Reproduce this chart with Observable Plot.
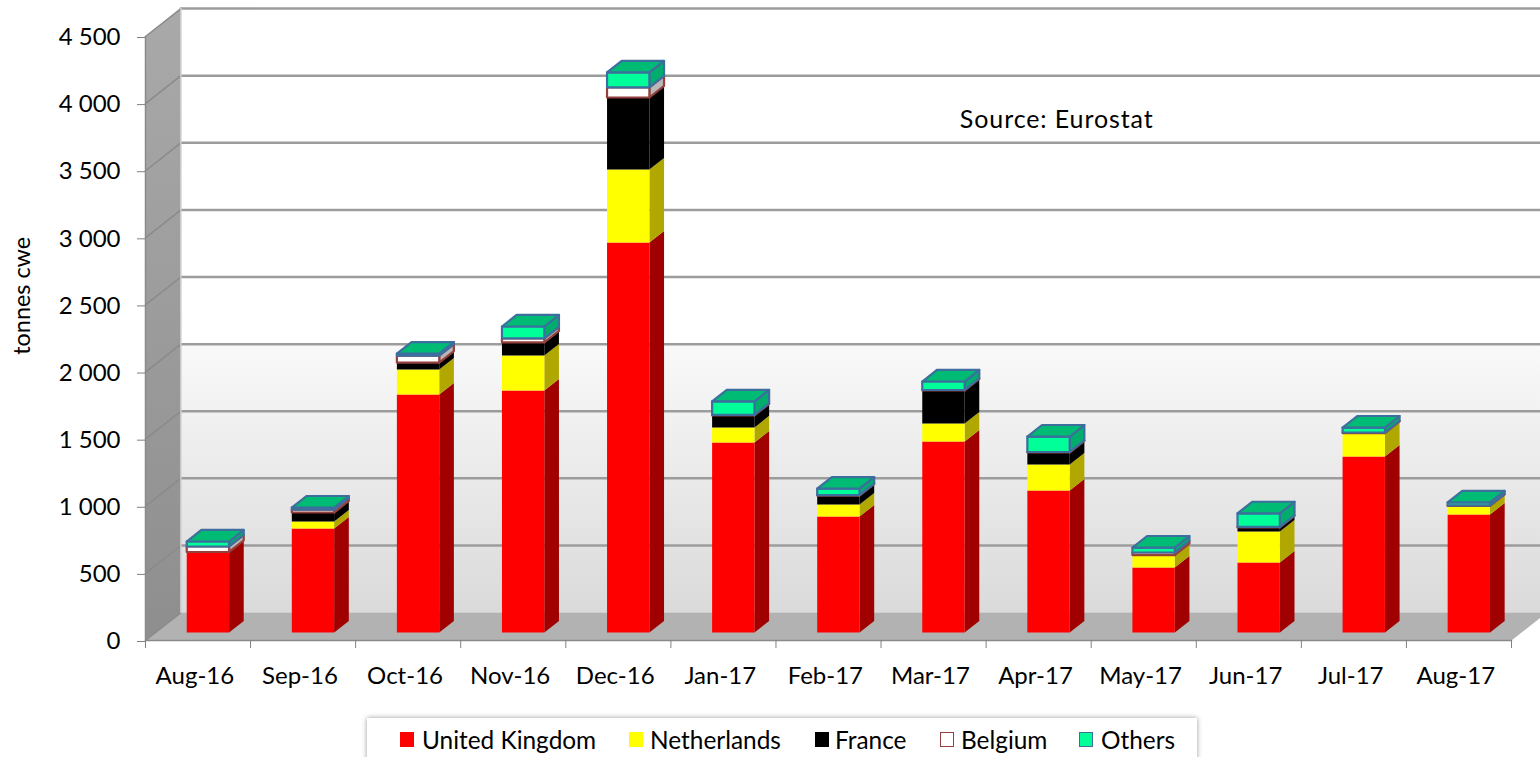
<!DOCTYPE html>
<html>
<head>
<meta charset="utf-8">
<script src="https://cdn.jsdelivr.net/npm/d3@7"></script>
<script src="https://cdn.jsdelivr.net/npm/@observablehq/plot@0.6"></script>
<style>
html,body{margin:0;padding:0;background:#fff;overflow:hidden}
#chart{position:relative;width:1540px;height:757px;font-family:Lato,sans-serif;color:#000}
#legend{position:absolute;left:367px;top:718px;width:830px;height:60px;background:#fff;box-shadow:0 0 5px rgba(0,0,0,.4);font-size:24.4px}
#legend span{position:absolute;white-space:nowrap}
#legend i{position:absolute;box-sizing:border-box;width:14px;height:15px;top:14px}
.source-note text{letter-spacing:.9px}
</style>
</head>
<body>
<div id="chart"></div>
<script>
const months = ["Aug-16","Sep-16","Oct-16","Nov-16","Dec-16","Jan-17","Feb-17","Mar-17","Apr-17","May-17","Jun-17","Jul-17","Aug-17"];
const unitedKingdom = [596,775,1773,1803,2906,1416,864,1423,1058,484,522,1311,879];
const netherlands   = [4,52,186,261,544,112,89,134,194,89,231,171,60];
const france        = [0,67,52,97,536,89,67,246,89,4,30,4,4];
const belgium       = [41,22,52,30,75,4,4,4,4,19,4,4,4];
const others        = [37,15,15,89,112,101,48,63,115,37,101,37,22];
const seriesNames   = ["United Kingdom","Netherlands","France","Belgium","Others"];
const seriesValues  = [unitedKingdom,netherlands,france,belgium,others];
const frontColors = ["#ff0000","#ffff00","#000000","#ffffff","#00ff99"];
const sideColors  = ["#a00000","#b0a800","#000000","#b8b8b8","#00ad6c"];
const topColor    = "#00bb73";
const edgeColors  = ["none","none","none","#94403f","#3d6f9e"];
const yTicks = [0,500,1000,1500,2000,2500,3000,3500,4000,4500];

// Oblique projection of the chart's depth
const depthX = 0.337, depthY = 208;
const barStart = 0.296, barWidth = 0.403, frontDepth = 0.286, backDepth = 0.70;
const pt = (x, y, t) => ({x: x + depthX * t, y: y + depthY * t});
const poly = (pts, o) => Plot.line([...pts, pts[0]], {x: "x", y: "y", strokeLinejoin: "round", ...o});
const lastX = months.length, lastY = 4500;

const defs = () => {
  const ns = "http://www.w3.org/2000/svg";
  const d = document.createElementNS(ns, "defs");
  const grad = (id, stops) => {
    const g = document.createElementNS(ns, "linearGradient");
    g.setAttribute("id", id); g.setAttribute("x1", 0); g.setAttribute("x2", 0); g.setAttribute("y1", 0); g.setAttribute("y2", 1);
    stops.forEach(([o, c]) => { const s = document.createElementNS(ns, "stop"); s.setAttribute("offset", o); s.setAttribute("stop-color", c); g.appendChild(s); });
    d.appendChild(g);
  };
  grad("wallGrad", [[0, "#ffffff"], [0.552, "#ffffff"], [0.556, "#f9f9f9"], [1, "#dadada"]]);
  grad("sideGrad", [[0, "#a9a9a9"], [1, "#8e8e8e"]]);
  return d;
};

const marks = [defs];
// walls and floor
marks.push(poly([pt(0,lastY,1),pt(lastX,lastY,1),pt(lastX,0,1),pt(0,0,1)], {fill:"url(#wallGrad)", stroke:"none"}));
marks.push(poly([pt(0,lastY,0),pt(0,lastY,1),pt(0,0,1),pt(0,0,0)], {fill:"url(#sideGrad)", stroke:"none"}));
marks.push(poly([pt(0,0,0),pt(lastX,0,0),pt(lastX,0,1),pt(0,0,1)], {fill:"#b2b2b2", stroke:"none"}));
// gridlines
yTicks.forEach(v => {
  if (v > 0) marks.push(Plot.line([pt(0,v,1),pt(lastX,v,1)], {x:"x",y:"y",stroke:"#9c9c9c",strokeWidth:2.5}));
  marks.push(Plot.line([pt(0,v,0),pt(0,v,1)], {x:"x",y:"y",stroke:"#8a8a8a",strokeWidth:1.5}));
});
marks.push(Plot.line([pt(0,0,1),pt(0,lastY,1)], {x:"x",y:"y",stroke:"#d0d0d0",strokeWidth:1.5}));
marks.push(Plot.line([pt(0,lastY,0),pt(0,0,0),pt(lastX,0,0)], {x:"x",y:"y",stroke:"#8a8a8a",strokeWidth:1.5}));
// bars
months.forEach((m, i) => {
  const x0 = i + barStart, x1 = x0 + barWidth;
  let base = 0;
  seriesValues.forEach((vals, s) => {
    const top = base + vals[i];
    if (vals[i] > 0) {
      const edge = edgeColors[s];
      const sw = edge === "none" ? 0 : 2.2;
      marks.push(poly([pt(x1,base,frontDepth),pt(x1,base,backDepth),pt(x1,top,backDepth),pt(x1,top,frontDepth)], {fill:sideColors[s],stroke:edge,strokeWidth:sw}));
      marks.push(poly([pt(x0,base,frontDepth),pt(x1,base,frontDepth),pt(x1,top,frontDepth),pt(x0,top,frontDepth)], {fill:frontColors[s],stroke:edge,strokeWidth:sw}));
    }
    base = top;
  });
  marks.push(poly([pt(x0,base,frontDepth),pt(x1,base,frontDepth),pt(x1,base,backDepth),pt(x0,base,backDepth)], {fill:topColor,stroke:edgeColors[4],strokeWidth:2.2}));
});
// axes
marks.push(Plot.axisY({ticks:yTicks,tickSize:8,tickPadding:17,tickFormat:v=>d3.format(",")(v).replace(/,/g," "),stroke:"#808080",fill:"#000",label:null,textStroke:"none",dy:1}));
marks.push(Plot.axisX({ticks:d3.range(0,lastX+1),tickSize:8,tickFormat:()=>"",stroke:"#808080",label:null}));
marks.push(Plot.axisX({ticks:d3.range(lastX).map(i=>i+0.47),tickSize:0,tickPadding:26,tickFormat:v=>months[Math.round(v-0.47)],fill:"#000",label:null}));
// annotations
marks.push(Plot.text(["Source: Eurostat"],{x:[7.75],y:[3875],textAnchor:"start",fontSize:25,fill:"#000",className:"source-note"}));
marks.push(Plot.text(["tonnes cwe"],{x:[-1.172],y:[2568],rotate:-90,fontSize:23.4,fill:"#000"}));

const plot = Plot.plot({
  width:1540, height:715,
  marginLeft:145, marginRight:29, marginTop:36, marginBottom:75,
  x:{type:"linear",domain:[0,lastX],axis:null},
  y:{type:"linear",domain:[0,lastY],axis:null},
  style:{fontFamily:"Lato,sans-serif",fontSize:"24px",background:"#fff",overflow:"hidden"},
  marks
});
const chart = document.getElementById("chart");
chart.appendChild(plot);

// legend
const legend = document.createElement("div");
legend.id = "legend";
const swatchLeft = [33,262,448,573,712], labelLeft = [55,283,468,594,734];
seriesNames.forEach((n, s) => {
  const sw = document.createElement("i");
  sw.style.left = swatchLeft[s] + "px";
  sw.style.background = frontColors[s];
  if (edgeColors[s] !== "none") sw.style.border = "1.5px solid " + edgeColors[s];
  legend.appendChild(sw);
  const t = document.createElement("span");
  t.textContent = n; t.style.left = labelLeft[s] + "px"; t.style.top = "7px";
  legend.appendChild(t);
});
chart.appendChild(legend);
</script>
</body>
</html>
